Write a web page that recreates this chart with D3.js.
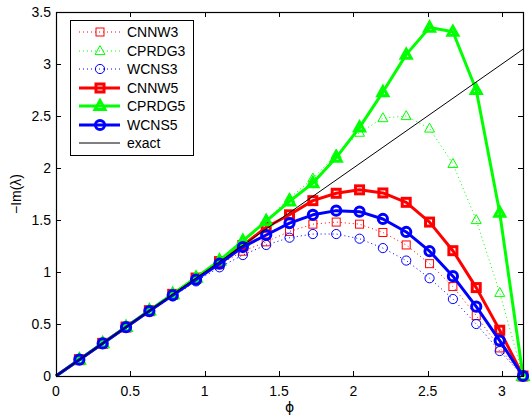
<!DOCTYPE html>
<html><head><meta charset="utf-8">
<script src="https://cdn.jsdelivr.net/npm/d3@7"></script>
<style>body{margin:0;background:#fff}svg{display:block;font-family:"Liberation Sans",Arial,Helvetica,sans-serif}</style>
</head><body>
<script>
const phi = [0, 0.157, 0.314, 0.471, 0.628, 0.785, 0.942, 1.100, 1.257, 1.414, 1.571, 1.728, 1.885, 2.042, 2.199, 2.356, 2.513, 2.670, 2.827, 2.985, 3.1416];
const CNNW3  = [0, 0.157, 0.314, 0.471, 0.627, 0.782, 0.935, 1.070, 1.200, 1.290, 1.390, 1.460, 1.480, 1.460, 1.380, 1.260, 1.080, 0.860, 0.580, 0.270, 0];
const CPRDG3 = [0, 0.158, 0.316, 0.474, 0.632, 0.790, 0.950, 1.110, 1.280, 1.500, 1.710, 1.900, 2.130, 2.340, 2.480, 2.500, 2.380, 2.040, 1.500, 0.800, 0];
const WCNS3  = [0, 0.156, 0.312, 0.466, 0.618, 0.765, 0.910, 1.045, 1.163, 1.260, 1.330, 1.365, 1.365, 1.320, 1.230, 1.110, 0.940, 0.740, 0.500, 0.240, 0];
const CNNW5  = [0, 0.157, 0.314, 0.471, 0.628, 0.785, 0.942, 1.100, 1.255, 1.430, 1.550, 1.686, 1.757, 1.790, 1.760, 1.670, 1.480, 1.205, 0.850, 0.440, 0];
const CPRDG5 = [0, 0.158, 0.315, 0.472, 0.630, 0.788, 0.946, 1.110, 1.300, 1.490, 1.680, 1.855, 2.100, 2.390, 2.730, 3.090, 3.350, 3.310, 2.750, 1.570, 0];
const WCNS5  = [0, 0.157, 0.313, 0.469, 0.624, 0.777, 0.927, 1.080, 1.240, 1.356, 1.470, 1.550, 1.590, 1.580, 1.510, 1.385, 1.200, 0.960, 0.667, 0.340, 0];
const exactX = [0, 3.1416];
const exactY = [0, 3.1416];
const xTicks = [0, 0.5, 1, 1.5, 2, 2.5, 3];
const yTicks = [0, 0.5, 1, 1.5, 2, 2.5, 3, 3.5];
const seriesNames = ["CNNW3", "CPRDG3", "WCNS3", "CNNW5", "CPRDG5", "WCNS5", "exact"];

const W = 531, H = 417;
const M = {l: 56, r: 523, t: 12, b: 376};
const svg = d3.select("body").append("svg").attr("width", W).attr("height", H);
const x = d3.scaleLinear().domain([0, Math.PI]).range([M.l, M.r]);
const y = d3.scaleLinear().domain([0, 3.5]).range([M.b, M.t]);

const series = [
  {name: "CNNW3", v: CNNW3, color: "#ff0000", dotted: true, marker: "square", sw: 1, mw: 1},
  {name: "CPRDG3", v: CPRDG3, color: "#00ff00", dotted: true, marker: "triangle", sw: 1, mw: 1},
  {name: "WCNS3", v: WCNS3, color: "#0000ff", dotted: true, marker: "circle", sw: 1, mw: 1},
  {name: "CNNW5", v: CNNW5, color: "#ff0000", dotted: false, marker: "square", sw: 3, mw: 3},
  {name: "CPRDG5", v: CPRDG5, color: "#00ff00", dotted: false, marker: "triangle", sw: 3, mw: 3},
  {name: "WCNS5", v: WCNS5, color: "#0000ff", dotted: false, marker: "circle", sw: 3, mw: 3}
];

function drawMarker(g, type, cx, cy, color, mw) {
  if (type === "square") {
    const s = 8;
    g.append("rect").attr("x", cx - s/2).attr("y", cy - s/2).attr("width", s).attr("height", s)
      .attr("fill", "none").attr("stroke", color).attr("stroke-width", mw);
  } else if (type === "circle") {
    g.append("circle").attr("cx", cx).attr("cy", cy).attr("r", 4.6)
      .attr("fill", "none").attr("stroke", color).attr("stroke-width", mw);
  } else {
    const h = 9, w = 10;
    g.append("path").attr("d", `M${cx},${cy - h*0.6}L${cx + w/2},${cy + h*0.4}L${cx - w/2},${cy + h*0.4}Z`)
      .attr("fill", "none").attr("stroke", color).attr("stroke-width", mw).attr("stroke-linejoin", "miter");
  }
}

// ticks (inside, all four sides)
const axG = svg.append("g").attr("stroke", "#000").attr("stroke-width", 1);
xTicks.forEach(t => {
  const px = Math.round(x(t)) + 0.5;
  axG.append("line").attr("x1", px).attr("x2", px).attr("y1", M.b).attr("y2", M.b - 5);
  axG.append("line").attr("x1", px).attr("x2", px).attr("y1", M.t).attr("y2", M.t + 5);
});
yTicks.forEach(t => {
  const py = Math.round(y(t)) + 0.5;
  axG.append("line").attr("x1", M.l).attr("x2", M.l + 5).attr("y1", py).attr("y2", py);
  axG.append("line").attr("x1", M.r).attr("x2", M.r - 5).attr("y1", py).attr("y2", py);
});

const line = d3.line().x(d => x(d[0])).y(d => y(d[1]));
const plotG = svg.append("g");
series.forEach(s => {
  const pts = phi.map((p, i) => [p, s.v[i]]);
  plotG.append("path").attr("d", line(pts)).attr("fill", "none").attr("stroke", s.color)
    .attr("stroke-width", s.sw).attr("stroke-dasharray", s.dotted ? "1,3" : null)
    .attr("stroke-linejoin", "round");
  const mg = plotG.append("g");
  pts.slice(1).forEach(p => drawMarker(mg, s.marker, x(p[0]), y(p[1]), s.color, s.mw));
});
plotG.append("path").attr("d", line(exactX.map((p, i) => [p, exactY[i]])))
  .attr("fill", "none").attr("stroke", "#000").attr("stroke-width", 1);

// box
svg.append("rect").attr("x", M.l + 0.5).attr("y", M.t + 0.5).attr("width", M.r - M.l).attr("height", M.b - M.t)
  .attr("fill", "none").attr("stroke", "#000").attr("stroke-width", 1.2);

// tick labels
const tl = svg.append("g").attr("font-size", 14).attr("fill", "#000");
xTicks.forEach(t => {
  tl.append("text").attr("x", x(t)).attr("y", 396).attr("text-anchor", "middle").text(d3.format("")(t));
});
yTicks.forEach(t => {
  tl.append("text").attr("x", 51).attr("y", y(t) + 5).attr("text-anchor", "end").text(d3.format("")(t));
});
svg.append("text").attr("x", (M.l + M.r) / 2).attr("y", 412).attr("text-anchor", "middle")
  .attr("font-size", 14).attr("font-family", "'DejaVu Sans', sans-serif").text("\u03D5");
svg.append("text").attr("transform", `translate(21,${(M.t + M.b) / 2}) rotate(-90)`)
  .attr("text-anchor", "middle").attr("font-size", 14).text("−Im(λ)");

// legend
const lg = svg.append("g");
lg.append("rect").attr("x", 70.5).attr("y", 20.5).attr("width", 123).attr("height", 135)
  .attr("fill", "#fff").attr("stroke", "#000").attr("stroke-width", 1);
const rowY = [32, 51, 69, 88, 106, 125, 143];
seriesNames.forEach((n, i) => {
  const yy = rowY[i];
  const s = series.find(d => d.name === n);
  if (s) {
    lg.append("line").attr("x1", 79).attr("x2", 120).attr("y1", yy).attr("y2", yy)
      .attr("stroke", s.color).attr("stroke-width", s.sw).attr("stroke-dasharray", s.dotted ? "1,3" : null);
    drawMarker(lg, s.marker, 100, yy, s.color, s.mw);
  } else {
    lg.append("line").attr("x1", 79).attr("x2", 120).attr("y1", yy).attr("y2", yy)
      .attr("stroke", "#000").attr("stroke-width", 1);
  }
  lg.append("text").attr("x", 127).attr("y", yy + 5).attr("font-size", 14).text(n);
});
</script>
</body></html>
